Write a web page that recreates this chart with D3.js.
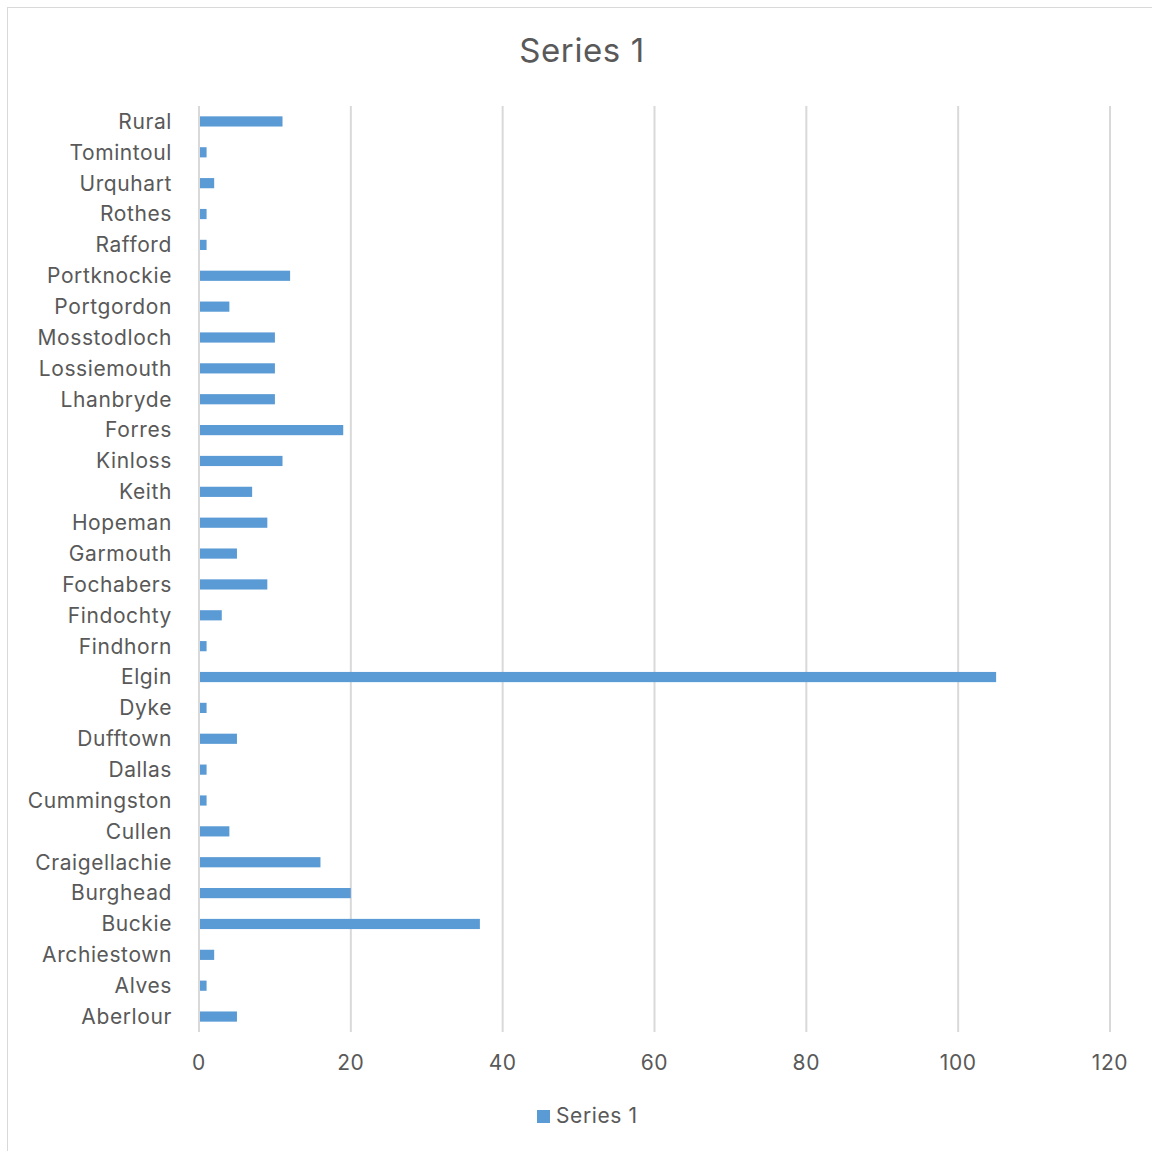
<!DOCTYPE html>
<html>
<head>
<meta charset="utf-8">
<script src="https://cdn.jsdelivr.net/npm/d3@7"></script>
<style>
  body { margin: 0; background: #fff; }
  text { font-family: Inter, "Open Sans", sans-serif; fill: #595959; letter-spacing: 0.6px; }
</style>
</head>
<body>
<div id="chart"></div>
<script>
// categories, top to bottom as shown
var towns = ['Rural', 'Tomintoul', 'Urquhart', 'Rothes', 'Rafford', 'Portknockie', 'Portgordon',
  'Mosstodloch', 'Lossiemouth', 'Lhanbryde', 'Forres', 'Kinloss', 'Keith', 'Hopeman', 'Garmouth',
  'Fochabers', 'Findochty', 'Findhorn', 'Elgin', 'Dyke', 'Dufftown', 'Dallas', 'Cummingston',
  'Cullen', 'Craigellachie', 'Burghead', 'Buckie', 'Archiestown', 'Alves', 'Aberlour']
var series1 = [11, 1, 2, 1, 1, 12, 4, 10, 10, 10, 19, 11, 7, 9, 5, 9, 3, 1, 105, 1, 5, 1, 1, 4, 16, 20, 37, 2, 1, 5]
var xTicks = [0, 20, 40, 60, 80, 100, 120]
var seriesName = 'Series 1'

const width = 1152
const height = 1151
const margin = { left: 199, right: 42, top: 106, bottom: 119 }

var svg = d3.select('#chart')
  .append('svg')
  .attr('width', width)
  .attr('height', height)

// outer chart border
svg.append('rect')
  .attr('x', 7.5).attr('y', 7.5)
  .attr('width', width + 10).attr('height', height + 10)
  .attr('fill', 'none')
  .attr('stroke', '#d9d9d9')

var x = d3.scaleLinear().domain([0, 120]).range([margin.left, width - margin.right])
var y = d3.scaleBand().domain(towns).range([margin.top, height - margin.bottom]).paddingInner(0.67).paddingOuter(0.335)
var band = d3.scaleBand().domain(towns).range([margin.top, height - margin.bottom])

// gridlines
svg.append('g')
  .selectAll('line')
  .data(xTicks)
  .enter()
  .append('line')
  .attr('x1', d => x(d)).attr('x2', d => x(d))
  .attr('y1', margin.top).attr('y2', height - margin.bottom)
  .attr('stroke', '#d9d9d9')
  .attr('stroke-width', 2)

// bars
svg.append('g')
  .selectAll('rect')
  .data(series1)
  .enter()
  .append('rect')
  .attr('x', x(0) + 1)
  .attr('y', (d, i) => y(towns[i]))
  .attr('width', d => x(d) - x(0) - 1)
  .attr('height', y.bandwidth())
  .attr('fill', '#5b9bd5')

// category labels
svg.append('g')
  .selectAll('text')
  .data(towns)
  .enter()
  .append('text')
  .attr('x', 172)
  .attr('y', d => band(d) + band.bandwidth() / 2)
  .attr('dy', '0.35em')
  .attr('text-anchor', 'end')
  .attr('font-size', 21)
  .text(d => d)

// x tick labels
svg.append('g')
  .selectAll('text')
  .data(xTicks)
  .enter()
  .append('text')
  .attr('x', d => x(d))
  .attr('y', 1063)
  .attr('dy', '0.35em')
  .attr('text-anchor', 'middle')
  .attr('font-size', 21)
  .text(d => d)

// title
svg.append('text')
  .attr('x', 582).attr('y', 50)
  .attr('dy', '0.35em')
  .attr('text-anchor', 'middle')
  .attr('font-size', 33)
  .text(seriesName)

// legend
svg.append('rect')
  .attr('x', 537).attr('y', 1110)
  .attr('width', 13).attr('height', 13)
  .attr('fill', '#5b9bd5')
svg.append('text')
  .attr('x', 556).attr('y', 1116)
  .attr('dy', '0.35em')
  .attr('font-size', 21)
  .text(seriesName)
</script>
</body>
</html>
